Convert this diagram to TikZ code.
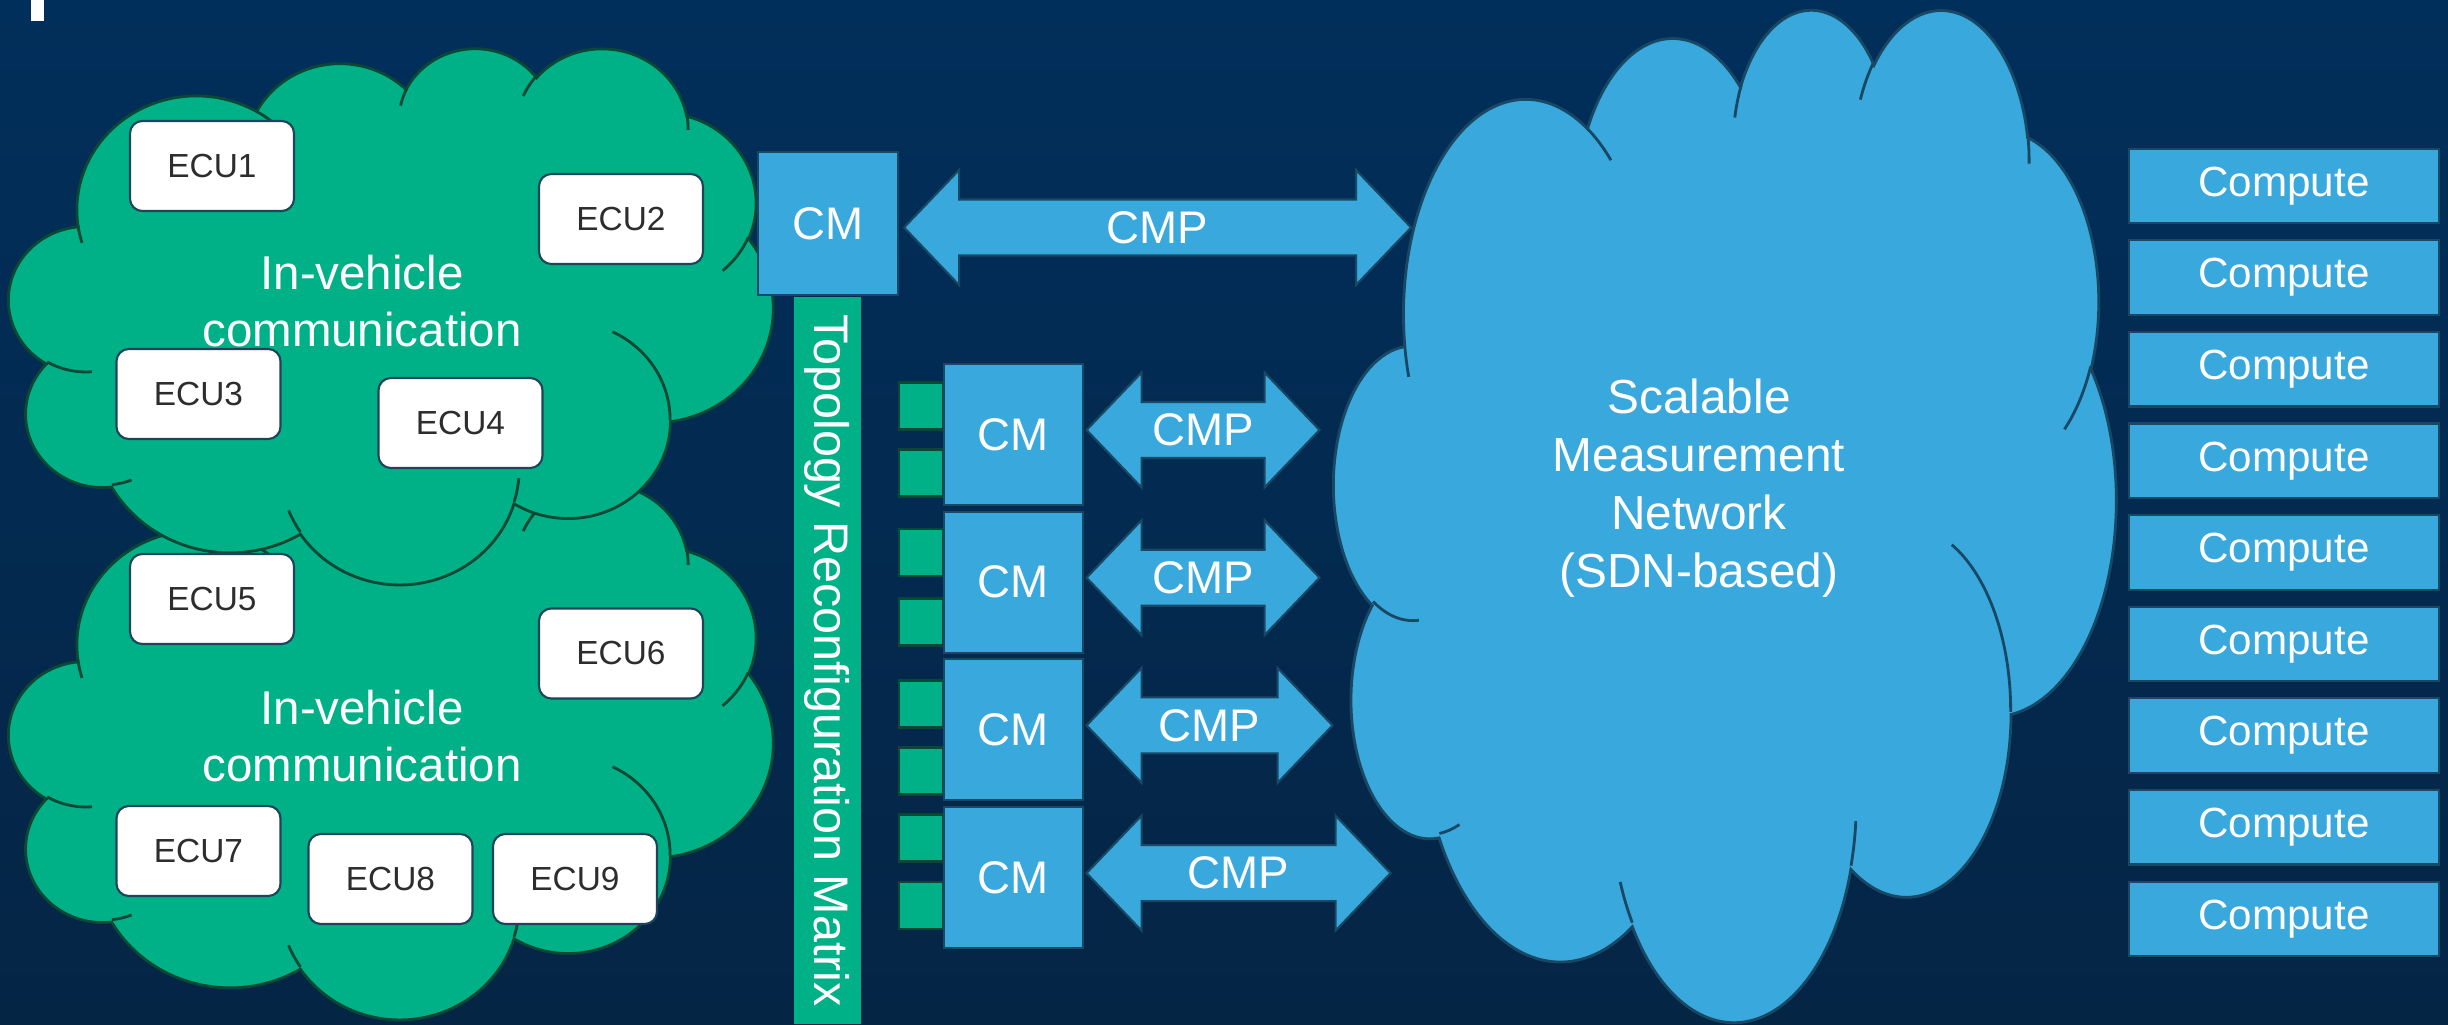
\documentclass[tikz,border=0pt]{standalone}
\usepackage{fontspec}
\setmainfont{Liberation Sans}
\usepackage{tikz}
\usetikzlibrary{calc}

\definecolor{bgtop}{RGB}{1,47,91}
\definecolor{bgbot}{RGB}{5,37,69}
\definecolor{netblue}{RGB}{57,168,220}
\definecolor{netline}{RGB}{24,72,100}
\definecolor{cargreen}{RGB}{0,177,136}
\definecolor{carline}{RGB}{8,72,52}
\definecolor{eculine}{RGB}{30,68,92}
\definecolor{ecutext}{RGB}{45,45,45}

\begin{document}
\begin{tikzpicture}[
  ooarc/.code n args={4}{%
    \pgfmathsetmacro\oaS{atan2((#1)*sin(#3),(#2)*cos(#3))}%
    \pgfmathsetmacro\oaE{atan2((#1)*sin((#3)+(#4)),(#2)*cos((#3)+(#4)))}%
    \pgfmathsetmacro\oaD{mod(\oaE-\oaS+720,360)}%
    \edef\oaArc{\noexpand\pgfkeysalso{insert path={arc[start angle=\oaS, delta angle=\oaD, x radius=#1, y radius=#2]}}}%
    \oaArc},
  cloudrim/.style={insert path={(3.9,14.37)
    [ooarc={6.753}{9.19}{-190.4875}{123.7805}]
    [ooarc={5.333}{7.267}{-144.1024}{89.9452}]
    [ooarc={4.365}{5.945}{-145.8079}{99.723}]
    [ooarc={4.857}{6.595}{-130.9861}{117.2417}]
    [ooarc={5.333}{7.273}{-78.7089}{109.0269}]
    [ooarc={6.775}{9.22}{-46.2673}{130.269}]
    [ooarc={5.785}{7.867}{0.625}{114.0333}]
    [ooarc={6.752}{9.215}{22.4516}{115.1726}]
    [ooarc={7.72}{10.543}{66.2426}{75.711}]
    [ooarc={4.36}{5.918}{-274.9421}{146.7356}]
    [ooarc={4.345}{5.945}{-246.8285}{152.5189}] -- cycle}},
  cloudfolds/.style={insert path={
    (4.693,26.177) [ooarc={4.345}{5.945}{86.742}{26.4295}]
    (6.928,34.899) [ooarc={4.36}{5.918}{73.6105}{11.4475}]
    (16.478,39.09) [ooarc={6.752}{9.215}{137.6242}{14.0811}]
    (28.827,34.751) [ooarc={6.752}{9.215}{6.4533}{15.9984}]
    (34.129,22.954) [ooarc={5.785}{7.867}{-70.2924}{70.9174}]
    (41.798,15.354) [ooarc={5.333}{7.273}{30.318}{27.7515}]
    (38.324,5.426) [ooarc={4.857}{6.595}{-13.7443}{14.8589}]
    (29.078,3.952) [ooarc={4.857}{6.595}{-149.1815}{18.1954}]
    (22.141,4.72) [ooarc={4.365}{5.945}{-163.4943}{17.6864}]
    (14.0,5.192) [ooarc={6.753}{9.19}{-66.707}{12.3194}]
    (4.127,15.789) [ooarc={6.753}{9.19}{157.6544}{11.8582}]}},
  ecubox/.style={draw=eculine, fill=white, rounded corners=3.5pt, line width=0.6pt, minimum width=1.64cm, minimum height=0.9cm, text=ecutext, font=\fontsize{9.5}{11}\selectfont},
  cloudlbl/.style={align=center, text=white, font=\fontsize{13.5}{16.2}\selectfont},
  cmbox/.style={draw=netline, fill=netblue, line width=0.6pt, text=white, font=\fontsize{13}{15}\selectfont},
  portbox/.style={draw=carline, fill=cargreen, line width=0.6pt, minimum width=0.44cm, minimum height=0.47cm, inner sep=0pt},
  cmparrow/.style={draw=netline, fill=netblue, line width=0.6pt, line join=miter,
    to path={let \p1=(\tikztostart), \p2=(\tikztotarget) in
      (\x1,\y1) -- (\x1+0.55cm,\y1+0.575cm) -- (\x1+0.55cm,\y1+0.28cm) -- (\x2-0.55cm,\y1+0.28cm)
      -- (\x2-0.55cm,\y1+0.575cm) -- (\x2,\y1) -- (\x2-0.55cm,\y1-0.575cm) -- (\x2-0.55cm,\y1-0.28cm)
      -- (\x1+0.55cm,\y1-0.28cm) -- (\x1+0.55cm,\y1-0.575cm) -- cycle}},
  cmplbl/.style={text=white, font=\fontsize{13}{15}\selectfont},
  netlbl/.style={align=center, text=white, font=\fontsize{13.6}{16.5}\selectfont},
  computebox/.style={cmbox, minimum width=3.1cm, minimum height=0.745cm, font=\fontsize{12}{14}\selectfont},
]
\useasboundingbox (0,0) rectangle (24.48,10.24);
\shade[top color=bgtop, bottom color=bgbot] (0,0) rectangle (24.48,10.24);
\fill[white] (0.31,10.03) rectangle (0.44,10.24);

% In-vehicle clouds (lower one first, upper one on top)
\begin{scope}[shift={(0.09,5.42)}, xscale=0.17685, yscale=-0.12407]
  \filldraw[fill=cargreen, draw=carline, line width=0.8pt] [cloudrim];
  \draw[carline, line width=0.8pt] [cloudfolds];
\end{scope}
\begin{scope}[shift={(0.09,9.77)}, xscale=0.17685, yscale=-0.12407]
  \filldraw[fill=cargreen, draw=carline, line width=0.8pt] [cloudrim];
  \draw[carline, line width=0.8pt] [cloudfolds];
\end{scope}

% ECUs
\node[ecubox] (ecu1) at (2.12,8.58) {ECU1};
\node[ecubox] (ecu2) at (6.21,8.05) {ECU2};
\node[ecubox] (ecu3) at (1.985,6.30) {ECU3};
\node[ecubox] (ecu4) at (4.605,6.01) {ECU4};
\node[ecubox] (ecu5) at (2.12,4.25) {ECU5};
\node[ecubox] (ecu6) at (6.21,3.705) {ECU6};
\node[ecubox] (ecu7) at (1.985,1.73) {ECU7};
\node[ecubox] (ecu8) at (3.905,1.45) {ECU8};
\node[ecubox] (ecu9) at (5.75,1.45) {ECU9};
\node[cloudlbl] (ivc1) at (3.62,7.225) {In-vehicle\\communication};
\node[cloudlbl] (ivc2) at (3.62,2.875) {In-vehicle\\communication};

% Topology matrix and CMs
\node[cmbox, minimum width=1.4cm, minimum height=1.43cm] (cm0) at (8.28,8.005) {CM};
\node[fill=cargreen, minimum width=7.27cm, minimum height=0.67cm, inner sep=0pt, rotate=-90, text=white, font=\fontsize{13.8}{16}\selectfont] (trm) at (8.275,3.635) {Topology Reconfiguration Matrix};
\foreach \y [count=\k] in {6.18,5.51,4.715,4.02,3.20,2.53,1.86,1.185}
  \node[portbox] (p\k) at (9.21,\y) {};
\foreach \i/\y in {1/5.895,2/4.418,3/2.941,4/1.464}
  \node[cmbox, minimum width=1.39cm, minimum height=1.41cm] (cm\i) at (10.135,\y) {CM};

% Scalable measurement network
\begin{scope}[shift={(13.34,10.17)}, xscale=0.18102, yscale=-0.23426]
  \filldraw[fill=netblue, draw=netline, line width=0.8pt] [cloudrim];
  \draw[netline, line width=0.8pt] [cloudfolds];
\end{scope}
\node[netlbl] (smn) at (16.99,5.355) {Scalable\\Measurement\\Network\\(SDN-based)};

% CMP arrows
\coordinate (a0) at ([shift={(0.05,-0.04)}]cm0.east);
\coordinate (b0) at ([xshift=5.07cm]a0);
\draw[cmparrow] (a0) to (b0);
\node[cmplbl] (cmp0) at ($(a0)!0.5!(b0)$) {CMP};
\foreach \i/\len in {1/2.33,2/2.33,3/2.46,4/3.04}{
  \coordinate (a\i) at ([shift={(0.025,0.045)}]cm\i.east);
  \coordinate (b\i) at ([xshift=\len cm]a\i);
  \draw[cmparrow] (a\i) to (b\i);
  \node[cmplbl] (cmp\i) at ($(a\i)!0.5!(b\i)$) {CMP};
}

% Compute nodes
\foreach \i in {1,...,9}
  \node[computebox] (comp\i) at (22.84,{8.38-(\i-1)*0.916}) {Compute};
\end{tikzpicture}
\end{document}
